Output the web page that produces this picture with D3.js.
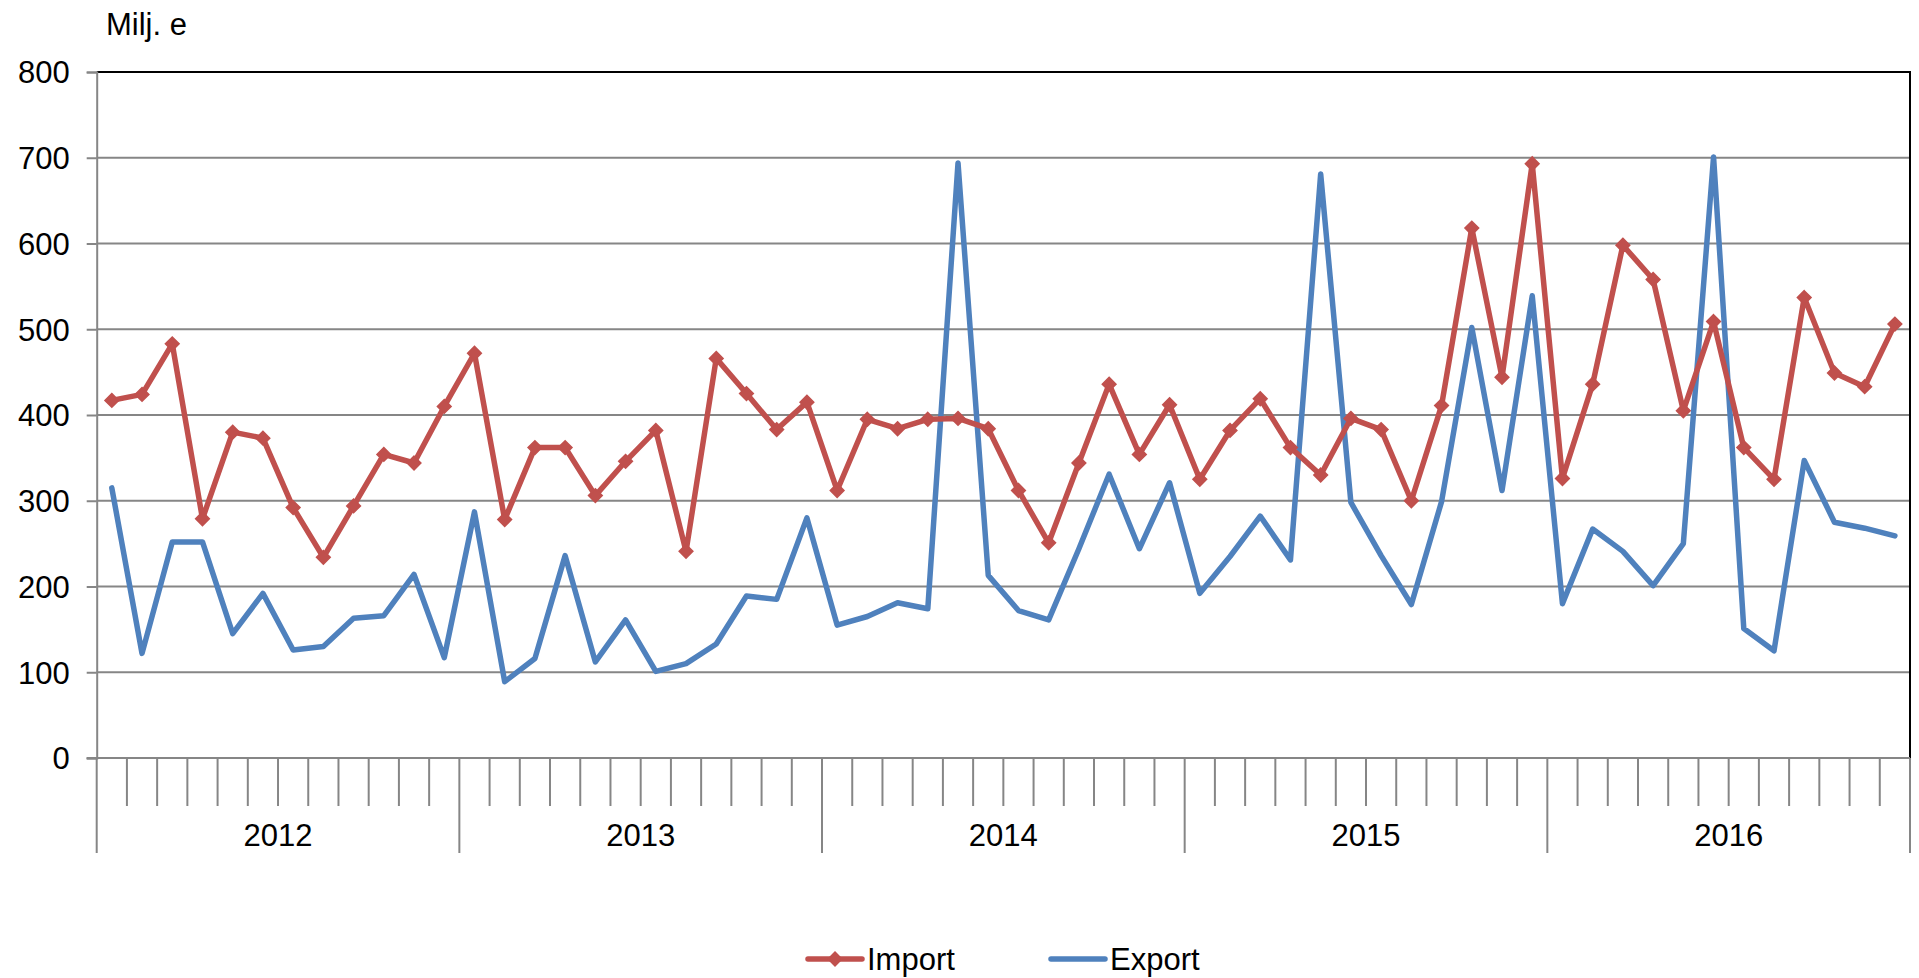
<!DOCTYPE html>
<html>
<head>
<meta charset="utf-8">
<script src="https://cdn.jsdelivr.net/npm/d3@7"></script>
<style>
html,body{margin:0;padding:0;background:#fff;}
svg{display:block;}
text{font-family:"Liberation Sans",Arial,Helvetica,sans-serif;fill:#000;}
</style>
</head>
<body>
<svg id="chart" width="1919" height="978"></svg>
<script>
// ---- data ----
const years = ["2012","2013","2014","2015","2016"];
const monthsPerYear = 12;
const yTicks = [0,100,200,300,400,500,600,700,800];
const unitLabel = "Milj. e";
const seriesNames = ["Import","Export"];
const importValues = [417,424,483,279,380,373,292,234,294,354,344,410,
                      472,278,362,362,306,346,382,241,466,425,383,415,
                      312,395,384,395,396,384,312,251,344,436,354,412,
                      325,382,419,362,330,396,383,300,411,618,444,693,
                      326,436,598,558,405,509,362,325,537,449,433,506];
const exportValues = [315,122,252,252,145,192,126,130,163,166,214,117,
                      287,89,116,236,112,161,101,110,133,189,185,280,
                      155,165,181,174,694,213,172,161,244,331,244,321,
                      192,235,282,231,681,298,236,179,299,502,312,539,
                      180,267,241,201,250,701,151,125,347,275,268,259];

// categories: one per month
const categories = [];
years.forEach(y => { for (let m = 1; m <= monthsPerYear; m++) categories.push(y + "-" + m); });

// ---- layout ----
const L = 96.7, R = 1910, T = 72, B = 758;
const gridColor = "#868686";
const colors = {Import:"#C0504D", Export:"#4F81BD"};
const font = 31;
const lw = 5.5;

const svg = d3.select("#chart");
const x = d3.scaleBand().domain(categories).range([L, R]).padding(0);
const y = d3.scaleLinear().domain([0, 800]).range([B, T]);
const cx = c => x(c) + x.bandwidth() / 2;

// gridlines
svg.append("g").selectAll("line").data(yTicks.filter(v => v > 0 && v < 800)).join("line")
  .attr("x1", L).attr("x2", R).attr("y1", d => y(d)).attr("y2", d => y(d))
  .attr("stroke", gridColor).attr("stroke-width", 2);

// plot border top and right (black)
svg.append("line").attr("x1", L).attr("x2", R + 1).attr("y1", y(800)).attr("y2", y(800))
  .attr("stroke", "#000").attr("stroke-width", 2);
svg.append("line").attr("x1", R).attr("x2", R).attr("y1", y(800)).attr("y2", B)
  .attr("stroke", "#000").attr("stroke-width", 2);

// y axis
const yAxis = d3.axisLeft(y).tickValues(yTicks).tickSize(10).tickPadding(17).tickFormat(d3.format("d"));
const gy = svg.append("g").attr("transform", `translate(${L},0)`).call(yAxis);
gy.select(".domain").attr("stroke", gridColor).attr("stroke-width", 2);
gy.selectAll(".tick line").attr("stroke", gridColor).attr("stroke-width", 2);
gy.selectAll(".tick text").style("font-size", font + "px").attr("fill", "#000")
  .style("font-family", '"Liberation Sans",Arial,sans-serif').attr("dy", "0.35em");

// x axis baseline
svg.append("line").attr("x1", L - 10).attr("x2", R).attr("y1", B).attr("y2", B)
  .attr("stroke", gridColor).attr("stroke-width", 2);

// month tick marks (band edges)
const edges = categories.map(c => x(c)).concat([x(categories[categories.length - 1]) + x.bandwidth()]);
svg.append("g").selectAll("line").data(edges).join("line")
  .attr("x1", d => d).attr("x2", d => d)
  .attr("y1", B).attr("y2", (d, i) => (i % monthsPerYear === 0) ? 853 : 806)
  .attr("stroke", gridColor).attr("stroke-width", 2);

// year labels
svg.append("g").selectAll("text").data(years).join("text")
  .attr("x", (d, i) => {
    const first = categories[i * monthsPerYear];
    const last = categories[i * monthsPerYear + monthsPerYear - 1];
    return (x(first) + x(last) + x.bandwidth()) / 2;
  })
  .attr("y", 846).attr("text-anchor", "middle").style("font-size", font + "px").text(d => d);

// unit label
svg.append("text").attr("x", 106).attr("y", 35).style("font-size", font + "px").text(unitLabel);

// lines
const line = d3.line().x((d, i) => cx(categories[i])).y(d => y(d));
svg.append("path").datum(exportValues).attr("d", line)
  .attr("fill", "none").attr("stroke", colors.Export).attr("stroke-width", lw)
  .attr("stroke-linejoin", "round").attr("stroke-linecap", "round");
svg.append("path").datum(importValues).attr("d", line)
  .attr("fill", "none").attr("stroke", colors.Import).attr("stroke-width", lw)
  .attr("stroke-linejoin", "round").attr("stroke-linecap", "round");

// diamond markers
const diamond = d3.symbol().type(d3.symbolDiamond2).size(120);
svg.append("g").selectAll("path").data(importValues).join("path")
  .attr("d", diamond)
  .attr("transform", (d, i) => `translate(${cx(categories[i])},${y(d)})`)
  .attr("fill", colors.Import).attr("stroke", colors.Import).attr("stroke-width", 1.5)
  .attr("stroke-linejoin", "miter");

// legend
const legendY = 959;
const legendItems = [
  {name: seriesNames[0], x0: 808, marker: true},
  {name: seriesNames[1], x0: 1051, marker: false}
];
const lg = svg.append("g").selectAll("g").data(legendItems).join("g");
lg.append("line").attr("x1", d => d.x0).attr("x2", d => d.x0 + 54)
  .attr("y1", legendY).attr("y2", legendY)
  .attr("stroke", d => colors[d.name]).attr("stroke-width", lw).attr("stroke-linecap", "round");
lg.filter(d => d.marker).append("path").attr("d", diamond)
  .attr("transform", d => `translate(${d.x0 + 27},${legendY})`).attr("fill", d => colors[d.name])
  .attr("stroke", d => colors[d.name]).attr("stroke-width", 1.5);
lg.append("text").attr("x", d => d.x0 + 59).attr("y", legendY + 11)
  .style("font-size", font + "px").text(d => d.name);
</script>
</body>
</html>
